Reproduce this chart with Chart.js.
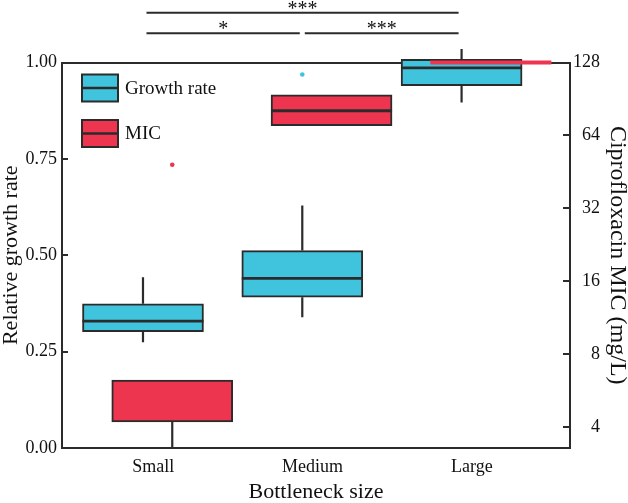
<!DOCTYPE html>
<html><head><meta charset="utf-8">
<script src="https://cdn.jsdelivr.net/npm/chart.js@4.4.1/dist/chart.umd.min.js"></script>
<style>html,body{margin:0;padding:0;background:#fff;}canvas{display:block;}</style>
</head><body>
<canvas id="c" width="628" height="503"></canvas>
<script>
// ---------- data ----------
const categories = ['Small', 'Medium', 'Large'];
// Relative growth rate (left axis)
const growthMin      = [0.274, 0.339, 0.896];
const growthQ1       = [0.302, 0.391, 0.940];
const growthMedian   = [0.329, 0.440, 0.986];
const growthQ3       = [0.374, 0.512, 1.008];
const growthMax      = [0.443, 0.629, 1.035];
const growthOutliers = [[], [0.969], []];
// Ciprofloxacin MIC, mg/L (right axis)
const micMin      = [3.27, 70.1, 128];
const micQ1       = [4.19, 70.1, 128];
const micMedian   = [4.19, 80.9, 128];
const micQ3       = [6.24, 94.0, 128];
const micMax      = [6.24, 94.0, 128];
const micOutliers = [[48.4], [], []];
// tick labels
const leftTicks  = [0, 0.25, 0.5, 0.75, 1.0];
const rightTicks = [4, 8, 16, 32, 64, 128];
// significance brackets (between growth-rate boxes)
const comparisons = [
  { from: 0, to: 2, label: '***', level: 2 },
  { from: 0, to: 1, label: '*',   level: 1 },
  { from: 1, to: 2, label: '***', level: 1 }
];

// ---------- style / layout ----------
const CYAN = '#40C4DE', RED = '#EE3550', DARK = '#2b2b2b', TEXT = '#111';
const FONT = "'Liberation Serif', 'Times New Roman', serif";
const GROWTH_SHIFT = -0.0647, MIC_SHIFT = 0.119;

function boxData(q1, q3, shift) {
  return categories.map((c, i) => ({ x: i + 1 + shift, y: [q1[i], q3[i]] }));
}
function outlierData(arr, shift) {
  const out = [];
  arr.forEach((vals, i) => vals.forEach(v => out.push({ x: i + 1 + shift, y: v })));
  return out;
}

const boxPlugin = {
  id: 'boxExtras',
  beforeDatasetsDraw(chart) {
    const ctx = chart.ctx;
    chart.data.datasets.forEach((ds, di) => {
      if (!ds.stats) return;
      const meta = chart.getDatasetMeta(di);
      const ys = chart.scales[ds.yAxisID];
      ctx.save();
      ctx.strokeStyle = DARK; ctx.lineWidth = 2.2;
      meta.data.forEach((bar, i) => {
        const s = ds.stats;
        const x = bar.x;
        ctx.beginPath();
        if (s.max[i] > s.q3[i]) { ctx.moveTo(x, ys.getPixelForValue(s.q3[i])); ctx.lineTo(x, ys.getPixelForValue(s.max[i])); }
        if (s.min[i] < s.q1[i]) { ctx.moveTo(x, ys.getPixelForValue(s.q1[i])); ctx.lineTo(x, ys.getPixelForValue(s.min[i])); }
        ctx.stroke();
      });
      ctx.restore();
    });
  },
  afterDatasetsDraw(chart) {
    const ctx = chart.ctx;
    chart.data.datasets.forEach((ds, di) => {
      if (!ds.stats) return;
      const meta = chart.getDatasetMeta(di);
      const ys = chart.scales[ds.yAxisID];
      meta.data.forEach((bar, i) => {
        const s = ds.stats;
        const degenerate = s.q1[i] === s.q3[i];
        // a median lying on a box edge is hidden by the edge
        if (!degenerate && (s.med[i] === s.q1[i] || s.med[i] === s.q3[i])) return;
        const y = ys.getPixelForValue(s.med[i]);
        const hw = bar.width / 2;
        ctx.save();
        ctx.beginPath();
        ctx.moveTo(bar.x - hw, y); ctx.lineTo(bar.x + hw, y);
        ctx.strokeStyle = degenerate ? ds.backgroundColor : DARK;
        ctx.lineWidth = degenerate ? 4 : 2.8;
        ctx.stroke();
        ctx.restore();
      });
    });
  },
  afterDraw(chart) {
    const ctx = chart.ctx;
    const ca = chart.chartArea;
    const xs = chart.scales.x;
    // legend
    const boxes = chart.data.datasets.filter(d => d.stats);
    boxes.forEach((ds, k) => {
      const bx = ca.left + 20, by = ca.top + 12 + k * 45.5, bw = 36, bh = 27;
      ctx.save();
      ctx.fillStyle = ds.backgroundColor;
      ctx.fillRect(bx, by, bw, bh);
      ctx.strokeStyle = DARK; ctx.lineWidth = 2;
      ctx.strokeRect(bx, by, bw, bh);
      ctx.beginPath(); ctx.moveTo(bx, by + bh / 2); ctx.lineTo(bx + bw, by + bh / 2);
      ctx.lineWidth = 2.5; ctx.stroke();
      ctx.fillStyle = TEXT; ctx.font = '19px ' + FONT;
      ctx.textAlign = 'left'; ctx.textBaseline = 'middle';
      ctx.fillText(ds.label, bx + bw + 7, by + bh / 2 + 1);
      ctx.restore();
    });
    // significance brackets
    comparisons.forEach(c => {
      const y = ca.top - 29.2 - (c.level - 1) * 20.6;
      const x1 = xs.getPixelForValue(c.from + 1 + GROWTH_SHIFT) + (c.level === 1 && c.from === 1 ? 2.5 : 3.5);
      const x2 = xs.getPixelForValue(c.to + 1 + GROWTH_SHIFT) - (c.level === 1 && c.to === 1 ? 2.5 : 3);
      ctx.save();
      ctx.strokeStyle = DARK; ctx.lineWidth = 2;
      ctx.beginPath(); ctx.moveTo(x1, y); ctx.lineTo(x2, y); ctx.stroke();
      ctx.fillStyle = TEXT; ctx.font = '20px ' + FONT;
      ctx.textAlign = 'center'; ctx.textBaseline = 'alphabetic';
      ctx.fillText(c.label, (x1 + x2) / 2, y + 2);
      ctx.restore();
    });
  }
};

const chart = new Chart(document.getElementById('c'), {
  type: 'bar',
  data: {
    datasets: [
      {
        label: 'Growth rate', yAxisID: 'y', order: 2,
        data: boxData(growthQ1, growthQ3, GROWTH_SHIFT),
        stats: { min: growthMin, q1: growthQ1, med: growthMedian, q3: growthQ3, max: growthMax },
        backgroundColor: CYAN, borderColor: DARK, borderWidth: 2,
        borderSkipped: false, barThickness: 121, grouped: false, clip: false
      },
      {
        label: 'MIC', yAxisID: 'y2', order: 1,
        data: boxData(micQ1, micQ3, MIC_SHIFT),
        stats: { min: micMin, q1: micQ1, med: micMedian, q3: micQ3, max: micMax },
        backgroundColor: RED, borderColor: DARK,
        borderWidth: ctx => (ctx.raw && ctx.raw.y && ctx.raw.y[0] === ctx.raw.y[1]) ? 0 : 2,
        borderSkipped: false, barThickness: 121, grouped: false, clip: false
      },
      {
        type: 'scatter', label: 'Growth rate outliers', yAxisID: 'y', order: 0,
        data: outlierData(growthOutliers, GROWTH_SHIFT),
        backgroundColor: CYAN, borderWidth: 0, pointRadius: 2.3, clip: false
      },
      {
        type: 'scatter', label: 'MIC outliers', yAxisID: 'y2', order: 0,
        data: outlierData(micOutliers, MIC_SHIFT),
        backgroundColor: RED, borderWidth: 0, pointRadius: 2.3, clip: false
      }
    ]
  },
  options: {
    responsive: false, animation: false, devicePixelRatio: 1,
    layout: { padding: { top: 62.5, right: 28, bottom: 0, left: 0 }, autoPadding: false },
    plugins: { legend: { display: false }, tooltip: { enabled: false } },
    scales: {
      x: {
        type: 'linear', position: 'bottom', min: 0.4269, max: 3.6159, offset: false,
        afterBuildTicks: s => { s.ticks = categories.map((c, i) => ({ value: i + 1 })); },
        afterFit: s => { s.height = 55; },
        ticks: { callback: (v, i) => categories[i], autoSkip: false, maxRotation: 0, padding: 8,
                 color: TEXT, font: { family: FONT, size: 18 } },
        grid: { display: false, drawTicks: false, tickLength: 0, offset: false },
        border: { display: true, color: DARK, width: 2 },
        title: { display: true, text: 'Bottleneck size', color: TEXT, padding: 0,
                 font: { family: FONT, size: 22, lineHeight: 1 } }
      },
      xTop: {
        type: 'linear', position: 'top', min: 0, max: 1, offset: false,
        afterFit: s => { s.height = 0; },
        ticks: { display: false },
        grid: { display: false, drawTicks: false },
        border: { display: true, color: DARK, width: 2 }
      },
      y: {
        type: 'linear', position: 'left', min: 0, max: 1,
        afterBuildTicks: s => { s.ticks = leftTicks.map(v => ({ value: v })); },
        afterFit: s => { s.width = 62; },
        ticks: { callback: v => Number(v).toFixed(2), padding: 11, color: TEXT,
                 font: { family: FONT, size: 18 } },
        grid: { drawOnChartArea: false, drawTicks: true, tickLength: -6, color: DARK, lineWidth: 2 },
        border: { display: true, color: DARK, width: 2 },
        title: { display: true, text: 'Relative growth rate', color: TEXT, padding: 0,
                 font: { family: FONT, size: 22, lineHeight: 1 } }
      },
      y2: {
        type: 'logarithmic', position: 'right', min: 3.27, max: 128,
        afterBuildTicks: s => { s.ticks = rightTicks.map(v => ({ value: v })); },
        afterFit: s => { s.width = 30; },
        ticks: { callback: v => String(v), padding: 10, crossAlign: 'far', color: TEXT,
                 font: { family: FONT, size: 18 } },
        grid: { drawOnChartArea: false, drawTicks: true, tickLength: -7, color: DARK, lineWidth: 2 },
        border: { display: true, color: DARK, width: 2 },
        title: { display: true, text: 'Ciprofloxacin MIC (mg/L)', color: TEXT,
                 padding: { top: -29, bottom: 0 },
                 font: { family: FONT, size: 24, lineHeight: 1 } }
      }
    }
  },
  plugins: [boxPlugin]
});
</script>
</body></html>
